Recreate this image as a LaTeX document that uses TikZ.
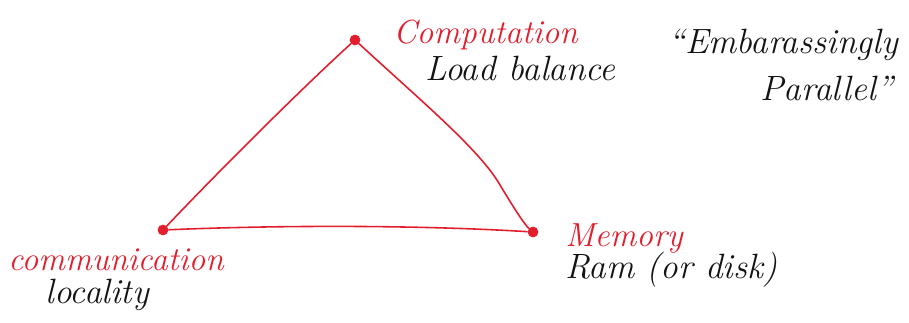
\documentclass[tikz,border=0pt]{standalone}
\usetikzlibrary{positioning}
\usepackage{xcolor}
\definecolor{ink}{RGB}{20,20,20}
\definecolor{pen}{RGB}{226,30,45}

\begin{document}
\begin{tikzpicture}[
    x=0.02cm, y=-0.02cm,
    dot/.style={circle, fill=pen, draw=pen, inner sep=0pt, minimum size=0.2cm},
    head/.style={text=pen, font=\fontsize{19}{21}\selectfont\itshape, inner sep=0pt, anchor=west},
    note/.style={text=ink, font=\fontsize{20}{22}\selectfont\itshape, inner sep=0pt, anchor=west},
    edge/.style={pen, line width=0.9pt},
]
\useasboundingbox (0,0) rectangle (909,322);

% Corners
\node[dot] (comp) at (355,40) {};
\node[dot] (comm) at (163,230) {};
\node[dot] (mem) at (533,232) {};

% Labels
\node[head] (complbl) at (393,35) {Computation};
\node[note] (load) at (425,68) {Load balance};
\node[head] (commlbl) at (8,260) {communication};
\node[note] (loc) at (45,295) {locality};
\node[head] (memlbl) at (565,238) {Memory};
\node[note] (ram) at (565,270) {Ram (or disk)};

% Quote
\node[note] (emb) at (668,45) {``Embarassingly};
\node[note] (par) at (760,88) {Parallel''};

% Edges
\draw[edge] (comp) .. controls (300,90) and (215,175) .. (comm);
\draw[edge] (comp) .. controls (420,100) and (480,150) .. (500,185) .. controls (515,210) and (525,225) .. (mem);
\draw[edge] (comm) .. controls (280,225) and (420,225) .. (mem);

\end{tikzpicture}
\end{document}
